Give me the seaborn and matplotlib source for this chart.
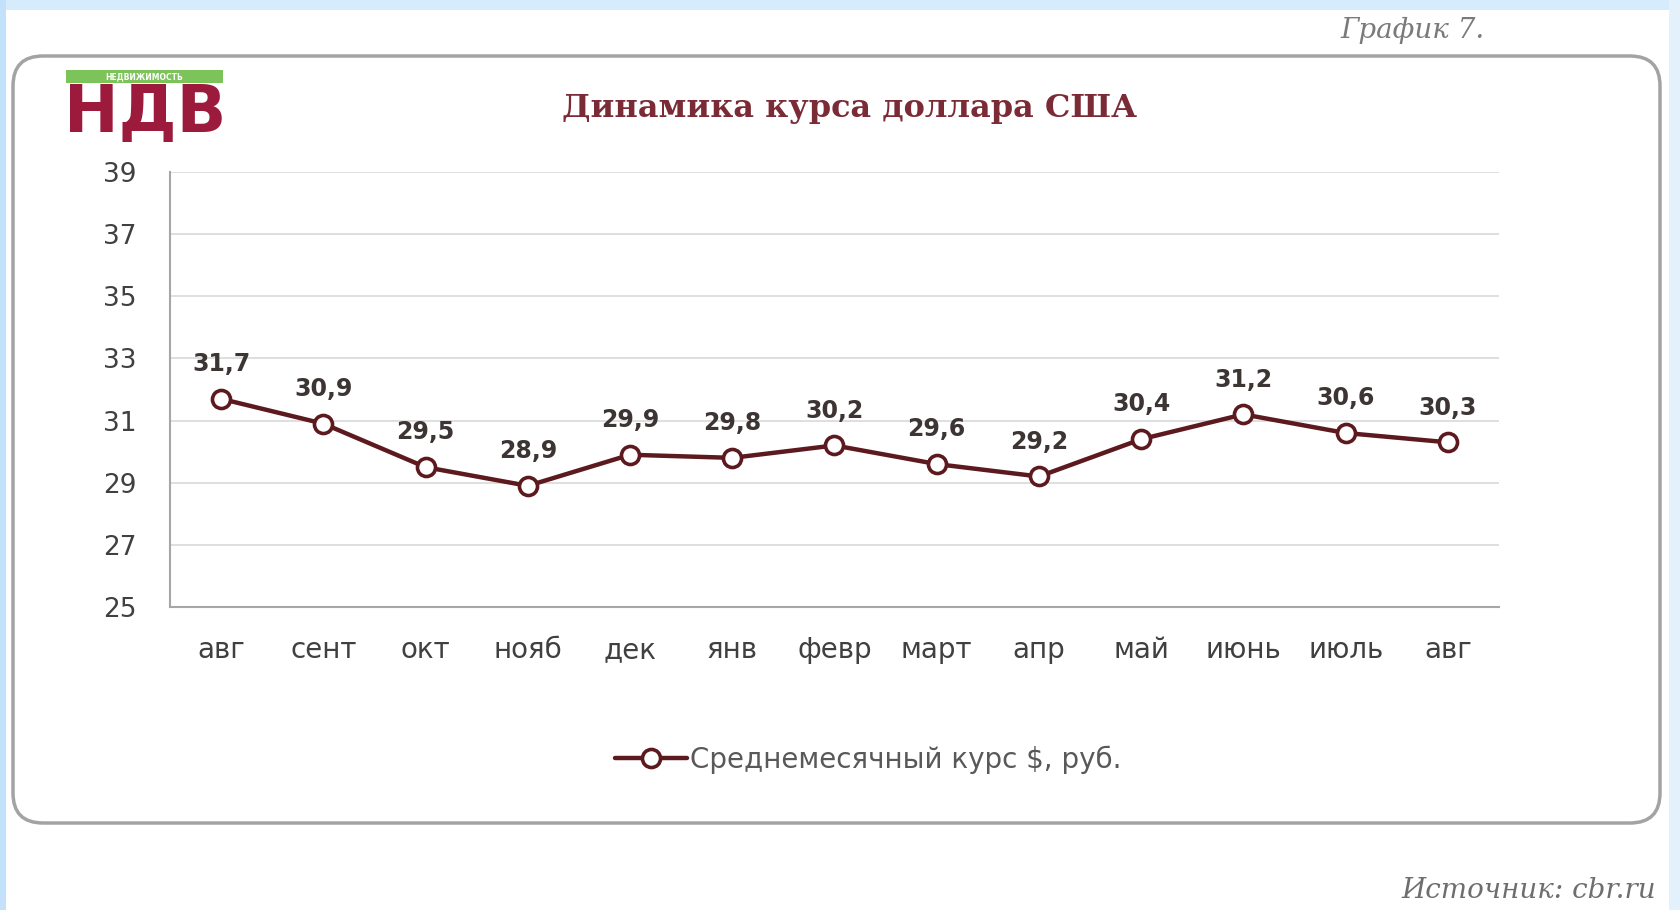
import matplotlib
matplotlib.use("Agg")
import matplotlib.pyplot as plt
from matplotlib.patches import FancyBboxPatch, Rectangle
import numpy as np
import seaborn as sns

# ---- data ----
months = ["авг", "сент", "окт", "нояб", "дек", "янв", "февр", "март", "апр", "май", "июнь", "июль", "авг"]
rates = [31.7, 30.9, 29.5, 28.9, 29.9, 29.8, 30.2, 29.6, 29.2, 30.4, 31.2, 30.6, 30.3]
y_ticks = [25, 27, 29, 31, 33, 35, 37, 39]
title = "Динамика курса доллара США"
series_label = "Среднемесячный курс $, руб."
chart_no = "График 7."
source = "Источник: cbr.ru"

sns.set_theme(style="white")
plt.rcParams["font.family"] = ["DejaVu Sans"]

W, H = 1681, 910
fig = plt.figure(figsize=(W / 100, H / 100), dpi=100)
fig.patch.set_facecolor("white")

# ---- background layer in pixel coordinates ----
bg = fig.add_axes([0, 0, 1, 1], zorder=-5)
bg.set_xlim(0, W)
bg.set_ylim(H, 0)
bg.axis("off")
bg.add_patch(Rectangle((0, 0), W, 10, color="#d6ebfb", lw=0))
bg.add_patch(Rectangle((0, 0), 6, H, color="#c4e1fb", lw=0))
bg.add_patch(Rectangle((W - 12, 0), 12, H, color="#e3f1fc", lw=0))
bg.add_patch(FancyBboxPatch((13 + 30, 56 + 30), 1647 - 60, 767 - 60,
                            boxstyle="round,pad=30", fc="white", ec="#a3a3a3", lw=2.5))
# logo
bg.add_patch(Rectangle((66, 70), 157, 13, color="#7cc35a", lw=0))
bg.text(144, 76.5, "НЕДВИЖИМОСТЬ", color="white", fontsize=5.5, ha="center", va="center", weight="bold")
bg.text(145, 114, "НДВ", color="#9c1b3c", fontsize=47, ha="center", va="center", weight="heavy")

fig.text(1485 / W, 1 - 30 / H, chart_no, ha="right", va="center", fontsize=20,
         family="DejaVu Serif", style="italic", color="#7a7a7a")
fig.text(1656 / W, 1 - 890 / H, source, ha="right", va="center", fontsize=20,
         family="DejaVu Serif", style="italic", color="#6e6e6e")
fig.text(850 / W, 1 - 109 / H, title, ha="center", va="center", fontsize=23,
         family="DejaVu Serif", weight="bold", color="#7b2b36")

# ---- chart axes ----
ax = fig.add_axes([170 / W, 1 - 607 / H, (1499 - 170) / W, (607 - 172) / H])
ax.set_facecolor("none")
line_color = "#5c1a1f"
xpos = np.arange(len(months))
sns.lineplot(x=xpos, y=rates, ax=ax, color=line_color, linewidth=3.2, marker="o",
             markersize=13, markerfacecolor="white", markeredgecolor=line_color,
             markeredgewidth=2.6, label=series_label, zorder=5)

ax.set_xlim(-0.5, len(months) - 0.5)
ax.set_ylim(y_ticks[0], y_ticks[-1])
ax.set_yticks(y_ticks)
ax.set_yticklabels([str(t) for t in y_ticks])
ax.set_xticks(xpos)
ax.set_xticklabels(months)
ax.set_xticks(np.arange(-0.5, len(months), 1.0), minor=True)
ax.tick_params(axis="x", which="major", length=0, pad=21, labelsize=20, labelcolor="#404040")
ax.tick_params(axis="x", which="minor", length=7, width=1.3, color="#a6a6a6", direction="out")
ax.tick_params(axis="y", which="major", length=0, pad=24, labelsize=19, labelcolor="#404040")
ax.grid(axis="y", color="#dcdcdc", linewidth=1.3)
ax.grid(axis="x", visible=False)
for s in ["top", "right"]:
    ax.spines[s].set_visible(False)
for s in ["left", "bottom"]:
    ax.spines[s].set_color("#a6a6a6")
    ax.spines[s].set_linewidth(1.5)
ax.set_xlabel("")
ax.set_ylabel("")

for i, v in enumerate(rates):
    ax.annotate(f"{v:.1f}".replace(".", ","), (xpos[i], v), xytext=(0, 25),
                textcoords="offset points", ha="center", va="center",
                fontsize=17, weight="bold", color="#3d3434")

handles, labels = ax.get_legend_handles_labels()
ax.get_legend().remove()
fig.legend(handles, labels, loc="center", bbox_to_anchor=(868 / W, 1 - 760 / H),
           frameon=False, fontsize=20, handlelength=2.6, handletextpad=0.1,
           labelcolor="#595959")

fig.savefig("out.png", dpi=100)
